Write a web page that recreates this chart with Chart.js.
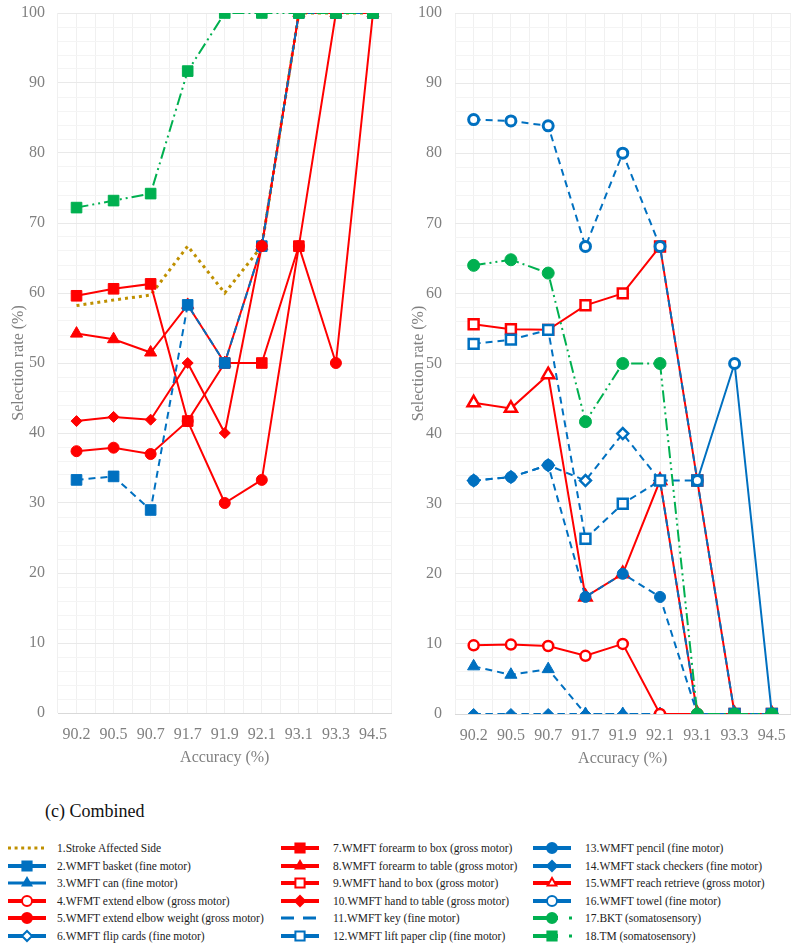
<!DOCTYPE html>
<html>
<head>
<meta charset="utf-8">
<script src="https://cdn.jsdelivr.net/npm/chart.js"></script>
<style>
  body { margin: 0; width: 800px; height: 951px; background: #fff; position: relative; overflow: hidden;
         font-family: 'Liberation Serif', 'Times New Roman', serif; }
  .panel { position: absolute; top: 0; }
  #caption { position: absolute; left: 45px; top: 801px; font-size: 18px; color: #111; }
  .item { position: absolute; height: 18px; line-height: 18px; font-size: 11.5px; color: #222; white-space: nowrap; }
</style>
</head>
<body>
<canvas id="left" class="panel" style="left:0" width="400" height="775"></canvas>
<canvas id="right" class="panel" style="left:400px" width="400" height="775"></canvas>
<div id="caption">(c) Combined</div>
<div id="legend"></div>

<script>
// x categories and y labels
const accuracy = ['90.2', '90.5', '90.7', '91.7', '91.9', '92.1', '93.1', '93.3', '94.5'];
const yMajorTicks = [0, 10, 20, 30, 40, 50, 60, 70, 80, 90, 100];

// left panel (selection rate %)
const strokeSide   = [58.2, 59.0, 59.7, 66.7, 60.0, 66.7, 100, 100, 100];
const basket       = [33.3, 33.8, 29.0, 58.3, 50.0, 66.7, 100, 100, 100];
const elbowWeight  = [37.4, 37.9, 37.0, 41.7, 30.0, 33.3, 66.7, 50.0, 100];
const elbowLeft    = [null, null, null, null, null, 66.7, null, null, null];
const forearmBox   = [59.6, 60.6, 61.3, 41.7, 50.0, 50.0, 66.7, 100, 100];
const forearmTable = [54.2, 53.4, 51.5, 58.3, 50.0, 66.7, 100, 100, 100];
const handTable    = [41.7, 42.3, 41.9, 50.0, 40.0, 66.7, 100, 100, 100];
const tm           = [72.2, 73.2, 74.2, 91.7, 100, 100, 100, 100, 100];

// right panel
const can           = [6.8, 5.6, 6.4, 0, 0, 0, 0, 0, 0];
const flipCards     = [33.3, 33.8, 35.5, 33.3, 40.0, 33.3, 0, 0, 0];
const extendElbow   = [9.8, 9.9, 9.7, 8.3, 10.0, 0, 0, 0, 0];
const handBox       = [55.6, 54.9, 54.8, 58.3, 60.0, 66.7, 33.3, 0, 0];
const key           = [0, 0, 0, 0, 0, 0, 0, 0, 0];
const paperClip     = [52.8, 53.4, 54.8, 25.0, 30.0, 33.3, 33.3, 0, 0];
const pencil        = [33.3, 33.8, 35.5, 16.7, 20.0, 16.7, 0, 0, 0];
const stackCheckers = [0, 0, 0, 0, 0, 0, 0, 0, 0];
const reachRetrieve = [44.4, 43.6, 48.4, 16.7, 20.0, 33.3, 0, 0, 0];
const towel         = [84.8, 84.6, 83.9, 66.7, 80.0, 66.7, 33.3, 50.0, 0];
const bkt           = [64.0, 64.8, 62.9, 41.7, 50.0, 50.0, 0, 0, 0];

const FONT = "'Liberation Serif', 'Times New Roman', serif";
const GREY = '#808080';
const RED = '#ff0000', BLUE = '#0070c0', GREEN = '#00b050', GOLD = '#bf9000';
const DASH = [7, 5], DASHDOT = [12, 4, 2, 4, 2, 4];

// look of every series (chart + legend)
const looks = {
  s1:  { label: '1.Stroke Affected Side', color: GOLD, dash: [3, 4], width: 3, iconDash: [3, 3.6], iconWidth: 3 },
  s2:  { label: '2.WMFT basket (fine motor)', color: BLUE, dash: DASH, point: 'rect', r: 7.5 },
  s3:  { label: '3.WMFT can (fine motor)', color: BLUE, dash: DASH, point: 'triangle', r: 7, iconWidth: 3, iconR: 5 },
  s4:  { label: '4.WFMT extend elbow (gross motor)', color: RED, point: 'circle', r: 5, open: true },
  s4b: { label: '4.WFMT extend elbow (gross motor)', color: RED, point: 'circle', r: 5.5 },
  s5:  { label: '5.WMFT extend elbow weight  (gross motor)', color: RED, point: 'circle', r: 5.5 },
  s6:  { label: '6.WMFT flip cards (fine motor)', color: BLUE, dash: DASH, point: 'rectRot', r: 5.5, open: true },
  s7:  { label: '7.WMFT forearm to box (gross motor)', color: RED, point: 'rect', r: 7.5 },
  s8:  { label: '8.WMFT forearm to table (gross motor)', color: RED, point: 'triangle', r: 7 },
  s9:  { label: '9.WMFT hand to box (gross motor)', color: RED, point: 'rect', r: 7, open: true },
  s10: { label: '10.WMFT hand to table (gross motor)', color: RED, point: 'rectRot', r: 5.5 },
  s11: { label: '11.WMFT key (fine motor)', color: BLUE, dash: DASH, iconDash: [13, 9], iconWidth: 3 },
  s12: { label: '12.WMFT lift  paper clip (fine motor)', color: BLUE, dash: DASH, point: 'rect', r: 7, open: true },
  s13: { label: '13.WMFT pencil (fine motor)', color: BLUE, dash: DASH, point: 'circle', r: 5.5 },
  s14: { label: '14.WMFT stack checkers (fine motor)', color: BLUE, dash: DASH, point: 'rectRot', r: 5.5 },
  s15: { label: '15.WMFT reach retrieve  (gross motor)', color: RED, point: 'triangle', r: 7, open: true },
  s16: { label: '16.WMFT towel (fine motor)', color: BLUE, dash: DASH, point: 'circle', r: 5, open: true, bw: 3 },
  s17: { label: '17.BKT (somatosensory)', color: GREEN, dash: DASHDOT, point: 'circle', r: 6, tail: true },
  s18: { label: '18.TM (somatosensory)', color: GREEN, dash: DASHDOT, point: 'rect', r: 7.5, tail: true }
};

function line(look, data, extra) {
  return Object.assign({
    label: look.label,
    data: data,
    borderColor: look.color,
    borderWidth: look.width || 2,
    borderDash: look.dash || [],
    pointStyle: look.point || 'circle',
    pointRadius: look.point ? look.r : 0,
    pointBackgroundColor: look.open ? '#ffffff' : look.color,
    pointBorderColor: look.color,
    pointBorderWidth: look.open ? (look.bw || 2.5) : 1,
    fill: false,
    tension: 0
  }, extra || {});
}

// first dataset ends up on top
const leftSets = [
  line(looks.s18, tm),
  line(looks.s4b, elbowLeft),
  line(looks.s2, basket),
  line(looks.s7, forearmBox),
  line(looks.s5, elbowWeight),
  line(looks.s10, handTable),
  line(looks.s8, forearmTable),
  line(looks.s1, strokeSide)
];

const rightSets = [
  line(looks.s17, bkt),
  line(looks.s13, pencil),
  line(looks.s16, towel, { segment: { borderDash: c => c.p0DataIndex >= 6 ? [] : undefined } }),
  line(looks.s12, paperClip),
  line(looks.s6, flipCards),
  line(looks.s4, extendElbow),
  line(looks.s3, can),
  line(looks.s14, stackCheckers),
  line(looks.s11, key),
  line(looks.s9, handBox),
  line(looks.s15, reachRetrieve)
];

function makeChart(id, datasets, yWidth, padRight, padBottom) {
  const isMajor = v => yMajorTicks.includes(Math.round(v));
  return new Chart(document.getElementById(id).getContext('2d'), {
    type: 'line',
    data: { labels: accuracy, datasets: datasets },
    options: {
      responsive: false,
      animation: false,
      layout: { padding: { top: 0, right: padRight, bottom: padBottom, left: 0 } },
      plugins: { legend: { display: false }, tooltip: { enabled: false } },
      scales: {
        x: {
          type: 'category',
          offset: true,
          grid: { color: '#f0f0f0', drawTicks: false },
          border: { color: '#d9d9d9' },
          ticks: { color: GREY, font: { family: FONT, size: 16 }, padding: 12, maxRotation: 0, autoSkip: false },
          title: { display: true, text: 'Accuracy (%)', color: GREY, font: { family: FONT, size: 16 }, padding: { top: 4, bottom: 4 } },
          afterFit: s => { s.height = 58; }
        },
        x2: {
          type: 'category',
          labels: accuracy,
          position: 'top',
          offset: true,
          grid: { offset: true, color: '#f0f0f0', drawTicks: false },
          border: { display: false },
          ticks: { display: false },
          afterFit: s => { s.height = 0; }
        },
        y: {
          min: 0,
          max: 100,
          grid: { color: c => isMajor(c.tick.value) ? '#e9e9e9' : '#f4f4f4', drawTicks: false },
          border: { display: false },
          ticks: {
            stepSize: 2, autoSkip: false, maxTicksLimit: 60, padding: 13,
            color: GREY, font: { family: FONT, size: 16 },
            callback: v => isMajor(v) ? String(Math.round(v)) : ''
          },
          title: { display: true, text: 'Selection rate (%)', color: GREY, font: { family: FONT, size: 16 }, padding: { top: 9, bottom: 0 } },
          afterFit: s => { s.width = yWidth; s.paddingTop = 13; s.paddingBottom = 0; }
        }
      }
    }
  });
}

makeChart('left', leftSets, 58, 4.5, 4);
makeChart('right', rightSets, 55, 7.5, 3);

// legend, three columns of six
const legendCols = [
  ['s1', 's2', 's3', 's4', 's5', 's6'],
  ['s7', 's8', 's9', 's10', 's11', 's12'],
  ['s13', 's14', 's15', 's16', 's17', 's18']
];
const colIcon = [6, 279, 531];
const colText = [57, 333, 585];

function drawIcon(cv, look) {
  const c = cv.getContext('2d');
  const y = cv.height / 2;
  c.strokeStyle = look.color;
  c.lineWidth = look.iconWidth || 4;
  c.setLineDash(look.iconDash || []);
  c.beginPath();
  c.moveTo(2, y);
  c.lineTo(look.tail ? 27 : cv.width - 4, y);
  c.stroke();
  c.setLineDash([]);
  if (look.tail) {
    c.fillStyle = look.color;
    c.fillRect(38, y - 1.5, 3, 3);
  }
  if (look.point) {
    c.fillStyle = look.open ? '#ffffff' : look.color;
    c.lineWidth = 2;
    const mx = look.tail ? 21 : (cv.width - 2) / 2;
    Chart.helpers.drawPoint(c, { pointStyle: look.point, radius: look.iconR || (look.point === 'rect' ? 6.5 : 5), rotation: 0, borderWidth: 2 }, mx, y);
  }
}

const legend = document.getElementById('legend');
legendCols.forEach((col, ci) => {
  col.forEach((k, ri) => {
    const look = looks[k];
    const top = 839 + ri * 17.6;
    const icon = document.createElement('canvas');
    icon.width = 44; icon.height = 14;
    icon.style.position = 'absolute';
    icon.style.left = colIcon[ci] + 'px';
    icon.style.top = (top + 2) + 'px';
    legend.appendChild(icon);
    drawIcon(icon, look);
    const d = document.createElement('div');
    d.className = 'item';
    d.style.left = colText[ci] + 'px';
    d.style.top = top + 'px';
    d.textContent = look.label;
    legend.appendChild(d);
  });
});
</script>
</body>
</html>
